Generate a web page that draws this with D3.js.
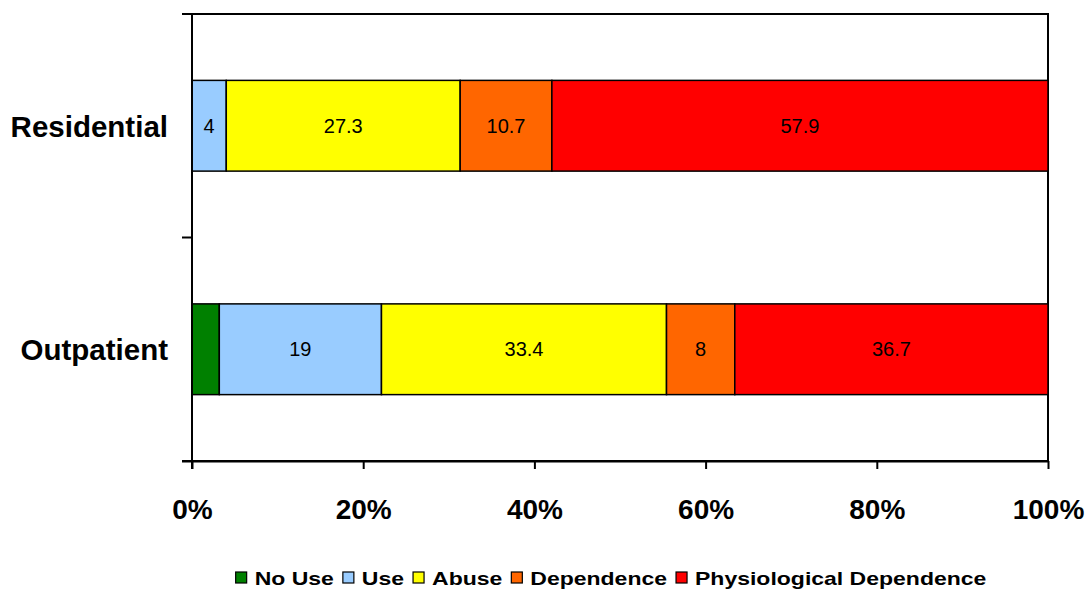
<!DOCTYPE html>
<html>
<head>
<meta charset="utf-8">
<script src="https://cdn.jsdelivr.net/npm/d3@7"></script>
<style>
  html, body { margin: 0; padding: 0; background: #fff; }
  svg { display: block; font-family: "Liberation Sans", Arial, sans-serif; }
</style>
</head>
<body>
<svg id="chart" width="1089" height="590"></svg>
<script>
// ---- data ----
const categories = ["Residential", "Outpatient"];
const seriesNames = ["No Use", "Use", "Abuse", "Dependence", "Physiological Dependence"];
const noUse = [0, 3.2];
const use = [4, 19];
const abuse = [27.3, 33.4];
const dependence = [10.7, 8];
const physiological = [57.9, 36.7];
const labeledSeries = ["Use", "Abuse", "Dependence", "Physiological Dependence"];
const xTickValues = [0, 0.2, 0.4, 0.6, 0.8, 1.0];
const seriesColors = ["#008000", "#99CCFF", "#FFFF00", "#FF6600", "#FF0000"];

const seriesValues = [noUse, use, abuse, dependence, physiological];
const rows = categories.map((c, i) => {
  const r = { category: c };
  seriesNames.forEach((s, j) => { r[s] = seriesValues[j][i]; });
  return r;
});

// ---- layout ----
const svg = d3.select("#chart");
const plot = { left: 192, right: 1048, top: 14, bottom: 461 };

const x = d3.scaleLinear().domain([0, 1]).range([plot.left, plot.right]);
const y = d3.scaleBand().domain(categories).range([plot.top, plot.bottom])
  .paddingInner(0.594).paddingOuter(0.297);
const color = d3.scaleOrdinal().domain(seriesNames).range(seriesColors);

const stack = d3.stack().keys(seriesNames).offset(d3.stackOffsetExpand);
const stacked = stack(rows);

// plot area border
svg.append("rect")
  .attr("x", plot.left).attr("y", plot.top)
  .attr("width", plot.right - plot.left).attr("height", plot.bottom - plot.top)
  .attr("fill", "#fff").attr("stroke", "#000").attr("stroke-width", 2);

// bars
const layers = svg.append("g").selectAll("g").data(stacked).join("g")
  .attr("fill", d => color(d.key));
layers.selectAll("rect").data(d => d.map(p => ({ p, key: d.key })))
  .join("rect")
  .filter(d => d.p[1] - d.p[0] > 0)
  .attr("x", d => x(d.p[0]))
  .attr("y", d => y(d.p.data.category))
  .attr("width", d => x(d.p[1]) - x(d.p[0]))
  .attr("height", y.bandwidth())
  .attr("stroke", "#000").attr("stroke-width", 1.5);

// bar labels
const labelG = svg.append("g");
stacked.forEach(layer => {
  if (!labeledSeries.includes(layer.key)) return;
  layer.forEach(p => {
    const v = p.data[layer.key];
    if (!(v > 0)) return;
    labelG.append("text")
      .attr("x", (x(p[0]) + x(p[1])) / 2)
      .attr("y", y(p.data.category) + y.bandwidth() / 2 + 7)
      .attr("text-anchor", "middle")
      .attr("font-size", 20)
      .attr("fill", "#000")
      .text(String(v));
  });
});

// x axis
const xAxis = d3.axisBottom(x).tickValues(xTickValues)
  .tickFormat(d3.format(".0%")).tickSize(8).tickPadding(0);
const gx = svg.append("g").attr("transform", `translate(0,${plot.bottom})`).call(xAxis);
gx.select(".domain").attr("d", `M${plot.left - 10},0.5H${plot.right}`).attr("stroke", "#000").attr("stroke-width", 2);
gx.selectAll(".tick line").attr("stroke", "#000").attr("stroke-width", 2);
gx.selectAll(".tick text")
  .attr("font-size", 28).attr("font-weight", "bold").attr("fill", "#000")
  .attr("font-family", "'Liberation Sans', Arial, sans-serif")
  .attr("dy", 0).attr("y", 58);

// y axis (category boundaries as ticks)
const yg = svg.append("g");
yg.append("line").attr("x1", plot.left).attr("x2", plot.left)
  .attr("y1", plot.top).attr("y2", plot.bottom + 8)
  .attr("stroke", "#000").attr("stroke-width", 2);
const step = y.step();
const boundaries = [plot.top].concat(categories.map(c => y(c) + y.bandwidth() + (step - y.bandwidth()) / 2));
boundaries[boundaries.length - 1] = plot.bottom;
yg.selectAll("line.tk").data(boundaries).join("line").attr("class", "tk")
  .attr("x1", plot.left - 10).attr("x2", plot.left)
  .attr("y1", d => d).attr("y2", d => d)
  .attr("stroke", "#000").attr("stroke-width", 2);
yg.selectAll("text").data(categories).join("text")
  .attr("x", 168)
  .attr("y", d => y(d) + y.bandwidth() / 2 + 11)
  .attr("text-anchor", "end")
  .attr("font-size", 29.5).attr("font-weight", "bold").attr("fill", "#000")
  .text(d => d);

// legend
const legend = svg.append("g");
const legendY = 585;
let cursor = 0;
seriesNames.forEach((s, i) => {
  const g = legend.append("g");
  g.append("rect").attr("x", cursor).attr("y", legendY - 13).attr("width", 11).attr("height", 11)
    .attr("fill", color(s)).attr("stroke", "#000").attr("stroke-width", 1.2);
  const t = g.append("text").attr("x", cursor + 19).attr("y", legendY)
    .attr("font-size", 19).attr("font-weight", "bold").attr("fill", "#000").text(s);
  const w = t.node().getComputedTextLength() * 1.21;
  t.attr("textLength", w).attr("lengthAdjust", "spacingAndGlyphs");
  cursor += 19 + w + 9;
});
const total = cursor - 9;
legend.attr("transform", `translate(${611 - total / 2},0)`);
</script>
</body>
</html>
